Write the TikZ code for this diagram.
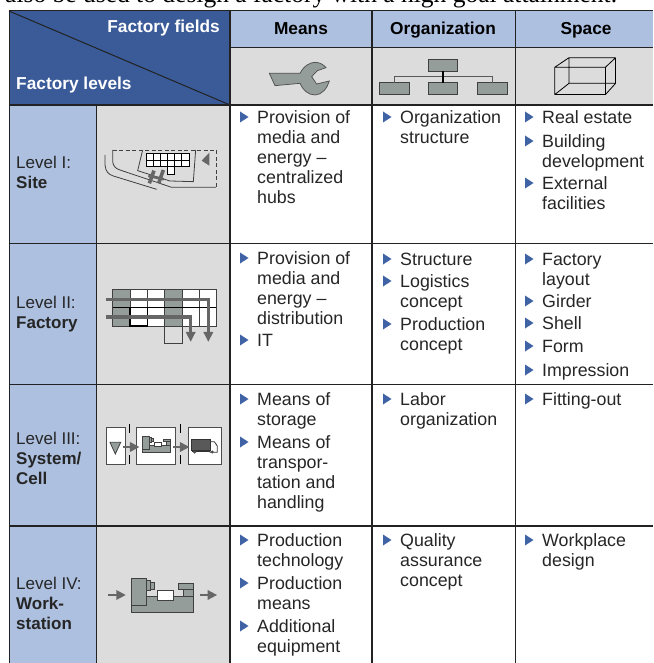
\documentclass[tikz,border=0pt]{standalone}
\usepackage{fontspec}
\setmainfont{Liberation Sans}
\newfontfamily\topfont{Liberation Serif}
\definecolor{dkblue}{HTML}{3A5B98}
\definecolor{ltblue}{HTML}{ADC0DF}
\definecolor{panel}{HTML}{DCDCDC}
\definecolor{icon}{HTML}{949D9A}
\definecolor{arrowgrey}{HTML}{666666}
\definecolor{bullet}{HTML}{3F63A5}
\definecolor{rule}{HTML}{222222}
\tikzset{
  txt/.style={anchor=north west,inner sep=0pt,align=left,text=black!85,font=\fontsize{17.8}{20}\selectfont},
  head/.style={inner sep=0pt,anchor=base,font=\fontsize{17.3}{20}\selectfont\bfseries},
  hdwhite/.style={head,text=white},
  gridline/.style={draw=rule,line width=1pt},
  thickline/.style={draw=rule,line width=1.6pt},
  mach/.style={fill=icon,draw=black!75,line width=.8pt},
  flow/.style={draw=arrowgrey,line width=3.2pt},
}
\newcommand{\bul}[4]{%
  \fill[bullet] (#2,#3-5.5) -- (#2+8.5,#3) -- (#2,#3+5.5) -- cycle;
  \node[txt] (#1) at (#2+17,#3-7) {\rule{0pt}{13pt}#4};}
\newcommand{\lev}[3]{\node[txt,font=\fontsize{17}{20}\selectfont] (#1) at (16,#2-7) {\rule{0pt}{13pt}#3};}
\newcommand{\machine}{%
  \path[mach] (0,81) -- (44,81) -- (44,55) -- (187,55) -- (187,101) -- (0,101) -- cycle;
  \path[mach] (44,7) rectangle (58,37);
  \path[mach] (58,11) rectangle (70,32);
  \path[mach] (0,0) rectangle (44,81);
  \path[fill=white,draw=black!75,line width=.8pt] (79,37) rectangle (127,67);
  \path[mach] (156,32) rectangle (187,55);
  \path[mach] (141,15) rectangle (187,32);}
\newcommand{\flowarrow}[3]{%
  \draw[arrowgrey,line width=2.4pt] (#1,#3) -- (#2-8,#3);
  \fill[arrowgrey] (#2-28,#3-15) -- (#2,#3) -- (#2-28,#3+15) -- cycle;}
\begin{document}
\begin{tikzpicture}[x=1pt,y=-1pt]
\useasboundingbox (0,0) rectangle (653,663);
\fill[white] (0,0) rectangle (653,663);
\begin{scope}
\clip (0,0) rectangle (653,663);
\node[anchor=base west,inner sep=0pt,font=\topfont\fontsize{25.5}{28}\selectfont] (topline) at (5,3) {also be used to design a factory with a high goal attainment.};
\end{scope}
% fills
\fill[dkblue] (9,11) rectangle (230,105);
\fill[ltblue] (230,11) rectangle (653,48);
\fill[panel] (230,48) rectangle (653,105);
\fill[ltblue] (9,105) rectangle (96,663);
\fill[panel] (96,105) rectangle (230,663);
% grid
\draw[gridline] (9,11) -- (653,11);
\draw[gridline] (230,48) -- (653,48);
\draw[thickline] (9,105) -- (653,105);
\draw[gridline] (9,243) -- (653,243);
\draw[gridline] (9,384) -- (653,384);
\draw[thickline] (9,526) -- (653,526);
\draw[gridline] (9,11) -- (9,663);
\draw[gridline] (96,105) -- (96,663);
\draw[thickline] (230,11) -- (230,663);
\draw[thickline] (372,11) -- (372,663);
\draw[gridline] (515,11) -- (515,663);
\draw[gridline] (9,11) -- (230,105);
% headers
\node[hdwhite,anchor=base east] (fields) at (220,33) {Factory fields};
\node[hdwhite,anchor=base west] (levels) at (16,90) {Factory levels};
\node[head] (means) at (301,35) {Means};
\node[head] (org) at (443,35) {Organization};
\node[head] (space) at (586,35) {Space};
% level labels
\lev{l1}{162}{Level I:\\\textbf{Site}}
\lev{l2}{302}{Level II:\\\textbf{Factory}}
\lev{l3}{438}{Level III:\\\textbf{System/}\\\textbf{Cell}}
\lev{l4}{583}{Level IV:\\\textbf{Work-}\\\textbf{station}}
% Means
\bul{ma}{240}{117}{Provision of\\media and\\energy –\\centralized\\hubs}
\bul{mb}{240}{258}{Provision of\\media and\\energy –\\distribution}
\bul{mc}{240}{340}{IT}
\bul{md}{240}{399}{Means of\\storage}
\bul{me}{240}{442}{Means of\\transpor-\\tation and\\handling}
\bul{mf}{240}{540}{Production\\technology}
\bul{mg}{240}{583}{Production\\means}
\bul{mh}{240}{626}{Additional\\equipment}
% Organization
\bul{oa}{383}{117}{Organization\\structure}
\bul{ob}{383}{259}{Structure}
\bul{oc}{383}{281}{Logistics\\concept}
\bul{od}{383}{324}{Production\\concept}
\bul{oe}{383}{399}{Labor\\organization}
\bul{of}{383}{540}{Quality\\assurance\\concept}
% Space
\bul{sa}{525}{117}{Real estate}
\bul{sb}{525}{141}{Building\\development}
\bul{sc}{525}{183}{External\\facilities}
\bul{sd}{525}{259}{Factory\\layout}
\bul{se}{525}{301}{Girder}
\bul{sf}{525}{323}{Shell}
\bul{sg}{525}{346}{Form}
\bul{sh}{525}{370}{Impression}
\bul{si}{525}{399}{Fitting-out}
\bul{sj}{525}{540}{Workplace\\design}
% wrench
\begin{scope}[shift={(230,45)},x=.3333pt,y=-.3333pt]
\path[fill=icon,draw=black!70,line width=.7pt] (118,85) -- (210,85) .. controls (222,62) and (240,52) .. (255,52) .. controls (270,52) and (282,60) .. (288,68) -- (262,77) -- (245,95) -- (260,117) -- (298,108) .. controls (292,130) and (275,150) .. (255,150) .. controls (235,150) and (218,135) .. (210,115) -- (135,122) -- (125,100) -- cycle;
\path[mach] (596,44) rectangle (683,78);
\path[mach] (447,113) rectangle (538,148);
\path[mach] (596,113) rectangle (683,148);
\path[mach] (743,113) rectangle (832,148);
\draw[black!65,line width=.8pt] (492,113) -- (492,95) -- (787,95) -- (787,113);
\draw[black,line width=1.6pt] (639,78) -- (639,113);
\end{scope}
% cube
\begin{scope}[shift={(500,40)},x=.3333pt,y=-.3333pt]
\draw[black,line width=.8pt] (164,82) -- (316,82) (164,82) -- (164,164) (164,82) -- (207,53) -- (347,53) (207,53) -- (207,130) -- (347,130) (164,164) -- (207,130) (316,82) -- (347,53) (316,164) -- (347,130);
\draw[black,line width=1.3pt] (164,164) -- (316,164) -- (316,82) (347,53) -- (347,130);
\end{scope}
% site icon
\begin{scope}[shift={(90,100)},x=.3333pt,y=-.3333pt]
\draw[black!75,line width=.8pt] (45,165) -- (45,195) .. controls (47,215) and (55,223) .. (70,228) -- (200,268);
\draw[black!75,line width=.8pt] (68,150) -- (68,185) .. controls (70,200) and (78,206) .. (90,210) -- (245,262) -- (378,262);
\draw[black!75,line width=.8pt,dash pattern=on 4pt off 2.5pt] (68,150) -- (380,150) -- (380,262);
\draw[black!75,line width=.8pt] (158,150) -- (143,212) -- (240,243) -- (310,245) -- (317,150);
\path[fill=white,draw=black,line width=.8pt] (233,200) rectangle (253,222);
\path[fill=white,draw=black,line width=.8pt] (170,160) rectangle (297,200);
\draw[black,line width=.8pt] (191,160) -- (191,200) (212,160) -- (212,200) (233,160) -- (233,200) (254,160) -- (254,200) (275,160) -- (275,200) (170,180) -- (297,180);
\fill[arrowgrey] (358,158) -- (335,182) -- (358,197) -- cycle;
\draw[arrowgrey,line width=3.6pt] (192,212) -- (178,250) (220,210) -- (206,250);
\draw[arrowgrey,line width=2.4pt] (175,228) -- (222,238);
\end{scope}
% factory icon
\begin{scope}[shift={(95,250)},x=.3333pt,y=-.3333pt]
\fill[white] (53,119) rectangle (364,228);
\fill[icon] (53,119) rectangle (105,228);
\fill[icon] (209,119) rectangle (261,228);
\draw[black!75,line width=.8pt] (53,119) rectangle (364,228);
\draw[black!75,line width=.8pt] (105,119) -- (105,228) (157,119) -- (157,228) (209,119) -- (209,281) -- (261,281) -- (261,119) (312,119) -- (312,228);
\draw[black,line width=1.1pt] (53,173) -- (364,173);
\draw[black,line width=1.1pt] (105,173) rectangle (157,228);
\draw[flow] (33,149) -- (340,149) -- (340,250);
\fill[arrowgrey] (325,246) -- (355,246) -- (340,275) -- cycle;
\draw[flow] (33,201) -- (287,201) -- (287,250);
\fill[arrowgrey] (272,246) -- (302,246) -- (287,275) -- cycle;
\end{scope}
% cell icon
\begin{scope}[shift={(95,385)},x=.3333pt,y=-.3333pt]
\path[fill=white,draw=black!70,line width=.9pt] (33,128) rectangle (91,238);
\path[fill=white,draw=black!70,line width=.9pt] (125,128) rectangle (242,238);
\path[fill=white,draw=black!70,line width=.9pt] (280,128) rectangle (378,238);
\draw[black,line width=1.4pt] (104,118) -- (104,145) (104,210) -- (104,238) (256,118) -- (256,145) (256,210) -- (256,238);
\path[mach] (45,172) -- (77,172) -- (61,207) -- cycle;
\flowarrow{85}{133}{186}
\flowarrow{235}{283}{186}
\path[fill=white,draw=black!80,line width=.8pt] (345,170) -- (358,170) -- (367,183) -- (367,202) -- (345,202) -- cycle;
\fill[black!65] (290,163) rectangle (345,195);
\draw[black!80,line width=.8pt] (290,163) rectangle (345,195) (290,200) -- (345,200);
\fill[black!70] (299,201) circle (5) (352,201) circle (5);
\end{scope}
\begin{scope}[shift={(142.3,436.7)},x=.152pt,y=-.152pt]
\machine
\end{scope}
% workstation icon
\begin{scope}[shift={(131.3,578.3)},x=.3333pt,y=-.3333pt]
\machine
\end{scope}
\begin{scope}[shift={(95,540)},x=.3333pt,y=-.3333pt]
\flowarrow{40}{92}{165}
\flowarrow{315}{366}{165}
\end{scope}
\end{tikzpicture}
\end{document}
